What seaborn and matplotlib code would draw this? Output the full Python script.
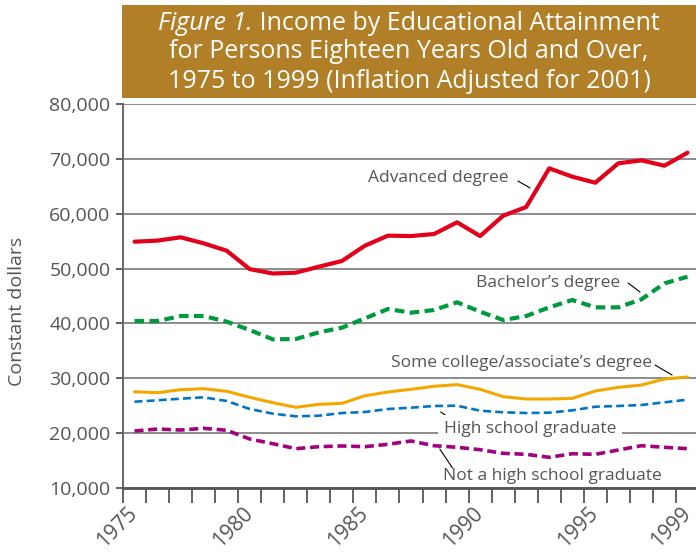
import matplotlib
matplotlib.use("Agg")
import matplotlib.pyplot as plt
import seaborn as sns
import pandas as pd
from matplotlib.patches import Rectangle
from matplotlib.ticker import FixedLocator, FuncFormatter

years = list(range(1975, 2000))
advanced = [54900, 55100, 55700, 54600, 53260, 49900, 49100, 49250, 50340, 51380,
            54170, 56000, 55930, 56300, 58430, 55930, 59640, 61220, 68270, 66750,
            65650, 69190, 69730, 68750, 71120]
bachelors = [40440, 40440, 41350, 41350, 40320, 38800, 37100, 37150, 38380, 39220,
             40930, 42630, 41960, 42450, 43850, 42140, 40620, 41350, 42930, 44270,
             42930, 42930, 44390, 47300, 48520]
some_college = [27550, 27370, 27920, 28100, 27630, 26530, 25550, 24710, 25250, 25430,
                26820, 27500, 27990, 28540, 28840, 27990, 26650, 26220, 26220, 26350,
                27680, 28350, 28770, 29870, 30230]
high_school = [25730, 25990, 26280, 26530, 25860, 24400, 23550, 23070, 23180, 23670,
               23850, 24400, 24640, 24950, 25000, 24090, 23800, 23670, 23730, 24160,
               24820, 24950, 25130, 25620, 26100]
not_hs = [20390, 20750, 20570, 20880, 20520, 18930, 18080, 17170, 17530, 17660,
          17530, 17970, 18570, 17710, 17420, 16980, 16320, 16140, 15590, 16250,
          16140, 16930, 17710, 17420, 17170]
x_tick_labels = ["1975", "1980", "1985", "1990", "1995", "1999"]
y_ticks = [10000, 20000, 30000, 40000, 50000, 60000, 70000, 80000]

sns.set_theme(style="white")
FONT = ["Open Sans", "DejaVu Sans"]
plt.rcParams["font.family"] = FONT

W, H = 696, 553
fig = plt.figure(figsize=(W / 100, H / 100), dpi=100)
ax = fig.add_axes([123 / W, (H - 488) / H, 576 / W, 384 / H])
ax.set_xlim(1974.5, 1999.5)
ax.set_ylim(10000, 80000)

df = pd.DataFrame({"year": years})
series = [
    (advanced, "#E3001B", 3.0, None),
    (bachelors, "#009A3E", 3.0, (2.3, 1.3)),
    (some_college, "#F4A700", 2.2, None),
    (high_school, "#0075C4", 1.9, (3.0, 1.6)),
    (not_hs, "#A2007E", 2.6, (2.5, 1.3)),
]
for vals, color, lw, dashes in series:
    d = df.assign(value=vals)
    sns.lineplot(data=d, x="year", y="value", ax=ax, color=color, lw=lw)
    l = ax.lines[-1]
    if dashes is not None:
        l.set_dashes(dashes)
    l.set_solid_joinstyle("round")
    l.set_dash_capstyle("butt")

# grid
ax.yaxis.set_major_locator(FixedLocator(y_ticks))
ax.yaxis.set_major_formatter(FuncFormatter(lambda v, p: f"{int(v):,}"))
ax.grid(axis="y", color="#8c8c8c", lw=1.4, zorder=0)
ax.set_axisbelow(True)

tick_years = [int(t) for t in x_tick_labels]
ax.xaxis.set_major_locator(FixedLocator(tick_years))
ax.set_xticklabels(x_tick_labels, rotation=45, ha="right", va="center", rotation_mode="anchor")
ax.xaxis.set_minor_locator(FixedLocator([y - 0.5 for y in years] + [1999.5]))
ax.tick_params(axis="x", which="major", length=0, pad=16, labelsize=15, labelcolor="#555555")
ax.tick_params(axis="x", which="minor", length=11, width=1.3, color="#555555", direction="out", bottom=True)
ax.tick_params(axis="y", which="major", length=5, width=1.3, color="#555555", direction="out",
               left=True, labelsize=14, labelcolor="#555555", pad=4)

for s in ["top", "right"]:
    ax.spines[s].set_visible(False)
ax.spines["left"].set_color("#666666")
ax.spines["left"].set_linewidth(1.4)
ax.spines["bottom"].set_color("#555555")
ax.spines["bottom"].set_linewidth(2.0)

ax.set_xlabel("")
ax.set_ylabel("Constant dollars", fontsize=14, color="#555555")
ax.yaxis.set_label_coords(-0.168, 0.46)

# annotations
tcol = "#555555"
fs = 12.5
ax.text(1985.13, 66510, "Advanced degree", fontsize=fs, color=tcol, va="center", ha="left")
ax.plot([1991.64, 1992.17], [65960, 64690], color="black", lw=0.8)
ax.text(1989.82, 47420, "Bachelor\u2019s degree", fontsize=fs, color=tcol, va="center", ha="left")
ax.plot([1996.42, 1996.94], [47370, 45730], color="black", lw=0.8)
ax.text(1997.46, 32780, "Some college/associate\u2019s degree", fontsize=fs, color=tcol, va="center", ha="right")
ax.plot([1997.59, 1998.33], [32420, 30600], color="black", lw=0.8)
ax.text(1988.43, 20750, "High school graduate", fontsize=fs, color=tcol, va="center", ha="left",
        bbox=dict(facecolor="white", edgecolor="none", pad=4))
ax.plot([1988.29, 1988.95], [23850, 22030], color="black", lw=0.8)
ax.text(1988.39, 12190, "Not a high school graduate", fontsize=fs, color=tcol, va="center", ha="left")
ax.plot([1988.25, 1988.8], [17110, 13650], color="black", lw=0.8)

# title box
fig.patches.append(Rectangle((122 / W, (H - 98) / H), (W - 122) / W, 93 / H,
                             transform=fig.transFigure, facecolor="#B17F27", edgecolor="none"))
cx = 409 / W
TFS = 18
t1a = "Figure 1."
t1b = " Income by Educational Attainment"
fig.canvas.draw()
r = fig.canvas.get_renderer()
ta = fig.text(0, 0, t1a, fontsize=TFS, style="italic", color="white")
tb = fig.text(0, 0, t1b, fontsize=TFS, color="white")
wa = ta.get_window_extent(r).width
wb = tb.get_window_extent(r).width
x0 = 409 - (wa + wb) / 2
ta.set_position((x0 / W, 1 - 23 / H)); ta.set_va("center")
tb.set_position(((x0 + wa) / W, 1 - 23 / H)); tb.set_va("center")
fig.text(cx, 1 - 52 / H, "for Persons Eighteen Years Old and Over,", fontsize=TFS, color="white",
         ha="center", va="center")
fig.text(cx, 1 - 81 / H, "1975 to 1999 (Inflation Adjusted for 2001)", fontsize=TFS, color="white",
         ha="center", va="center")

fig.savefig("out.png", dpi=100)
